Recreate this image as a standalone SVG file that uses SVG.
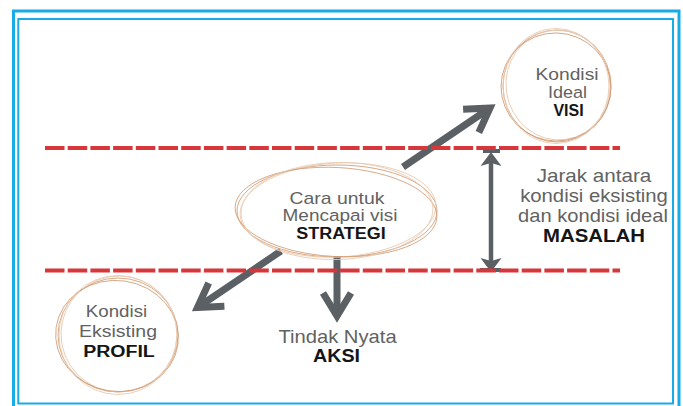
<svg xmlns="http://www.w3.org/2000/svg" width="683" height="406" viewBox="0 0 683 406">
<defs>
<style>
.frame{fill:none;stroke:#17ace6}
.dash{fill:none;stroke:#d7373a;stroke-width:4;stroke-dasharray:19.5 3.2}
.r1{fill:none;stroke:#d9a985;stroke-width:1}
.r2{fill:none;stroke:#e9cbb2;stroke-width:0.9}
.r3{fill:none;stroke:#cf976f;stroke-width:0.8}
.shaft{fill:none;stroke:#5b6065;stroke-width:7}
.dbl{fill:none;stroke:#5b6065;stroke-width:4.5}
.tick{fill:#5b6065}
.t{font-family:"Liberation Sans",Arial,sans-serif;fill:#626262;text-anchor:middle}
.b{font-family:"Liberation Sans",Arial,sans-serif;fill:#151515;font-weight:bold;text-anchor:middle}
</style>
<marker id="chev" markerUnits="userSpaceOnUse" viewBox="-40 -25 55 50" markerWidth="55" markerHeight="50" refX="0" refY="0" orient="auto">
<path d="M-23,-14 L0,0 L-23,14" fill="none" stroke="#5b6065" stroke-width="7" stroke-linejoin="miter" stroke-miterlimit="10"/>
</marker>
<marker id="tri" markerUnits="userSpaceOnUse" viewBox="-20 -15 35 30" markerWidth="35" markerHeight="30" refX="0" refY="0" orient="auto-start-reverse">
<path d="M8,0 L-6,-10.5 L-3,0 L-6,10.5 Z" fill="#5b6065"/>
</marker>
</defs>
<rect width="683" height="406" fill="#ffffff"/>
<g id="frame">
<rect class="frame" x="13.5" y="11" width="665.5" height="410" stroke-width="3"/>
<rect class="frame" x="18.3" y="19" width="654.7" height="384.5" stroke-width="2"/>
</g>
<g id="connectors">
<line class="shaft" x1="403" y1="167" x2="490" y2="108" marker-end="url(#chev)"/>
<line class="shaft" x1="281" y1="251" x2="197.5" y2="307.5" marker-end="url(#chev)"/>
<line class="shaft" x1="337" y1="256" x2="337" y2="316" marker-end="url(#chev)"/>
<rect class="tick" x="483" y="149" width="17" height="4"/>
<rect class="tick" x="480" y="268" width="21" height="4"/>
<line class="dbl" x1="491" y1="160" x2="491" y2="264" marker-start="url(#tri)" marker-end="url(#tri)"/>
</g>
<g id="levels">
<line class="dash" x1="45" y1="148" x2="620" y2="148"/>
<line class="dash" x1="45" y1="270.5" x2="620" y2="270.5"/>
</g>
<g id="visi">
<ellipse class="r1" cx="557" cy="86" rx="54" ry="56"/>
<ellipse class="r2" cx="558" cy="85" rx="52" ry="55" transform="rotate(-8 558 85)"/>
<ellipse class="r3" cx="556" cy="87" rx="55" ry="54" transform="rotate(12 556 87)"/>
<ellipse class="r2" cx="556" cy="86" rx="53" ry="57.5"/>
<text class="t" font-size="16.5" transform="translate(567 80) scale(1.165 1)">Kondisi</text>
<text class="t" font-size="16.5" transform="translate(567.5 97.5) scale(1.09 1)">Ideal</text>
<text class="b" font-size="16" transform="translate(568.5 116)">VISI</text>
</g>
<g id="strategi">
<ellipse class="r1" cx="337" cy="211" rx="100" ry="46"/>
<ellipse class="r2" cx="338" cy="210" rx="98" ry="47" transform="rotate(-3 338 210)"/>
<ellipse class="r3" cx="336" cy="212" rx="101" ry="44.5" transform="rotate(3 336 212)"/>
<ellipse class="r2" cx="337" cy="211" rx="96" ry="48.5" transform="rotate(-1.5 337 211)"/>
<text class="t" font-size="17" transform="translate(337 203.5) scale(1.143 1)">Cara untuk</text>
<text class="t" font-size="17" transform="translate(340 221) scale(1.117 1)">Mencapai visi</text>
<text class="b" font-size="17" transform="translate(341 239) scale(1.058 1)">STRATEGI</text>
</g>
<g id="profil">
<ellipse class="r1" cx="118" cy="335" rx="60" ry="57"/>
<ellipse class="r2" cx="119" cy="334" rx="58" ry="58" transform="rotate(-10 119 334)"/>
<ellipse class="r3" cx="117" cy="336" rx="61.5" ry="55.5" transform="rotate(8 117 336)"/>
<ellipse class="r2" cx="118" cy="335" rx="59" ry="59.5"/>
<text class="t" font-size="17" transform="translate(116.5 317) scale(1.1 1)">Kondisi</text>
<text class="t" font-size="17" transform="translate(118 337) scale(1.147 1)">Eksisting</text>
<text class="b" font-size="17" transform="translate(119 357) scale(1.15 1)">PROFIL</text>
</g>
<g id="masalah">
<text class="t" font-size="17.5" transform="translate(594 182) scale(1.18 1)">Jarak antara</text>
<text class="t" font-size="17.5" transform="translate(594 202) scale(1.16 1)">kondisi eksisting</text>
<text class="t" font-size="17.5" transform="translate(593 222) scale(1.15 1)">dan kondisi ideal</text>
<text class="b" font-size="17.5" transform="translate(594 242) scale(1.166 1)">MASALAH</text>
</g>
<g id="aksi">
<text class="t" font-size="17.5" transform="translate(337.5 343) scale(1.155 1)">Tindak Nyata</text>
<text class="b" font-size="17.5" transform="translate(336.5 362) scale(1.124 1)">AKSI</text>
</g>
</svg>
